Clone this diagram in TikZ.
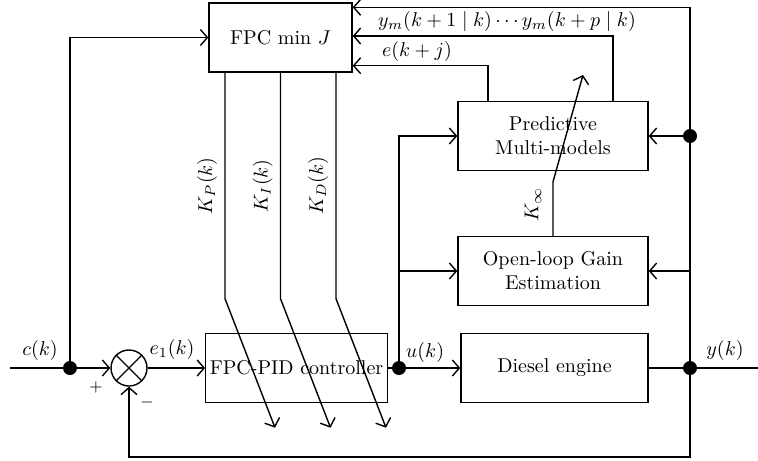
\documentclass[tikz,border=0pt]{standalone}
\usepackage{amsmath}
\usepackage{amssymb}
\usetikzlibrary{arrows.meta,calc,positioning}
\tikzset{
  blk/.style={draw, line width=0.7pt, minimum height=34.5pt, align=center, inner sep=2pt},
  summer/.style={draw, circle, line width=0.7pt, minimum size=18pt, inner sep=0pt},
  junc/.style={circle, fill=black, minimum size=7pt, inner sep=0pt},
  sig/.style={-{Straight Barb[length=3.5pt,width=8pt]}, line width=0.7pt},
  wire/.style={line width=0.7pt},
  lbl/.style={inner sep=1pt},
  sgn/.style={font=\footnotesize, inner sep=1pt}
}
\begin{document}
\begin{tikzpicture}[x=0.5pt, y=-0.5pt]
  \useasboundingbox (0,0) rectangle (758,460);
  % blocks
  \node[blk, minimum width=71.5pt] (fpc) at (280.5,37.5) {FPC min $J$};
  \node[blk, minimum width=95pt] (pred) at (553,136) {Predictive\\Multi-models};
  \node[blk, minimum width=95pt] (gain) at (553,271) {Open-loop Gain\\Estimation};
  \node[blk, minimum width=88.5pt] (pid) at (296.5,368) {FPC-PID controller};
  \node[blk, minimum width=93.5pt] (engine) at (554.5,368) {Diesel engine};
  \node[summer] (sum) at (129,368) {};
  \draw[wire] (sum.north west) -- (sum.south east) (sum.north east) -- (sum.south west);
  % junctions
  \node[junc] (cdot) at (70,368) {};
  \node[junc] (udot) at (399,368) {};
  \node[junc] (ydot) at (690,368) {};
  \node[junc] (pdot) at (690,136) {};
  \coordinate (in) at (10,368);
  \coordinate (out) at (758,368);
  \coordinate (fb) at (129,457);
  \coordinate (kinf) at (583,75);
  % main loop
  \draw[wire] (in) -- (cdot);
  \draw[sig] (cdot) -- (sum);
  \draw[sig] (cdot) |- (fpc);
  \draw[sig] (sum) -- (pid);
  \draw[wire] (pid) -- (udot);
  \draw[sig] (udot) -- (engine);
  \draw[wire] (engine) -- (ydot) -- (out);
  \draw[sig] (ydot) |- (fb) -- (sum);
  % estimation branch
  \draw[sig] (udot) |- (pred);
  \draw[sig] (udot |- gain) -- (gain);
  \draw[wire] (ydot) -- (pdot);
  \draw[sig] (pdot) -- (pred);
  \draw[sig] (ydot |- gain) -- (gain);
  \draw[sig] (pdot) |- ($(fpc.north east)+(0,5)$);
  \draw[sig] ($(pred.north)+(60,0)$) |- ($(fpc.east)+(0,-1.5)$);
  \draw[sig] ($(pred.north)+(-65,0)$) |- ($(fpc.south east)+(0,-7)$);
  \draw[sig] (gain.north) -- ++(0,-54) -- (kinf);
  % gains to the controller
  \foreach \dx/\g in {-55.5/P,0/I,55.5/D}{
    \draw[sig] ($(fpc.south)+(\dx,0)$) -- ++(0,226) -- ++(50,129);
    \node[lbl, rotate=90] (k\g) at ($(fpc.south)+(\dx-18,113)$) {$K_\g(k)$};
  }
  % labels
  \node[lbl, rotate=90] (kinflbl) at (533,205) {$K_\infty$};
  \node[lbl] (clbl) at (40,350) {$c(k)$};
  \node[sgn] (plus) at (96,387) {$+$};
  \node[sgn] (minus) at (147,402) {$-$};
  \node[lbl] (elbl) at (172,349) {$e_1(k)$};
  \node[lbl] (ulbl) at (425,352) {$u(k)$};
  \node[lbl] (ylbl) at (725,350) {$y(k)$};
  \node[lbl] (ymlbl) at (507,22) {$y_m(k+1\mid k)\cdots y_m(k+p\mid k)$};
  \node[lbl] (ejlbl) at (417,52) {$e(k+j)$};
\end{tikzpicture}
\end{document}
